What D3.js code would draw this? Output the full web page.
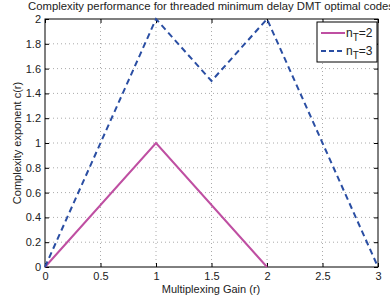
<!DOCTYPE html>
<html lang="en">
<head>
<meta charset="UTF-8">
<title>Complexity performance</title>
<script src="https://d3js.org/d3.v7.min.js"></script>
<style>
  body { margin: 0; background: #fff; }
  text { font-family: "Liberation Sans", Arial, sans-serif; }
</style>
</head>
<body>
<div id="chart"></div>
<script>
    // data
    var r2 = [0, 1, 2];
    var c2 = [0, 1, 0];
    var r3 = [0, 1, 1.5, 2, 3];
    var c3 = [0, 2, 1.5, 2, 0];
    var xTicks = [0, 0.5, 1, 1.5, 2, 2.5, 3];
    var yTicks = [0, 0.2, 0.4, 0.6, 0.8, 1, 1.2, 1.4, 1.6, 1.8, 2];
    var seriesNames = ["2", "3"];

    var w = 390, h = 300;
    var pLeft = 45, pRight = 378, pTop = 19, pBottom = 267;

    var svg = d3.select("#chart").append("svg")
        .attr("width", w).attr("height", h);

    var x = d3.scaleLinear().domain([0, 3]).range([pLeft, pRight]);
    var y = d3.scaleLinear().domain([0, 2]).range([pBottom, pTop]);

    // grid
    svg.append("g").selectAll("line").data(xTicks.slice(1, -1)).enter().append("line")
        .attr("x1", d => x(d)).attr("x2", d => x(d))
        .attr("y1", pTop).attr("y2", pBottom)
        .attr("stroke", "#aaa").attr("stroke-width", 1).attr("stroke-dasharray", "1,3");
    svg.append("g").selectAll("line").data(yTicks.slice(1, -1)).enter().append("line")
        .attr("x1", pLeft).attr("x2", pRight)
        .attr("y1", d => y(d)).attr("y2", d => y(d))
        .attr("stroke", "#aaa").attr("stroke-width", 1).attr("stroke-dasharray", "1,3");

    // axes
    var xAxis = d3.axisBottom(x).tickValues(xTicks).tickSize(-4).tickPadding(5).tickFormat(d3.format("~g"));
    var yAxis = d3.axisLeft(y).tickValues(yTicks).tickSize(-4).tickPadding(4).tickFormat(d3.format("~g"));
    var gx = svg.append("g").attr("transform", "translate(0," + pBottom + ")").call(xAxis);
    var gy = svg.append("g").attr("transform", "translate(" + pLeft + ",0)").call(yAxis);
    var gx2 = svg.append("g").attr("transform", "translate(0," + pTop + ")")
        .call(d3.axisTop(x).tickValues(xTicks).tickSize(-4).tickFormat(""));
    var gy2 = svg.append("g").attr("transform", "translate(" + pRight + ",0)")
        .call(d3.axisRight(y).tickValues(yTicks).tickSize(-4).tickFormat(""));
    [gx, gy, gx2, gy2].forEach(function(g) {
        g.select(".domain").remove();
        g.selectAll("line").attr("stroke", "#000");
        g.selectAll("text").attr("font-size", 11).attr("fill", "#222")
            .style("font-family", "Liberation Sans, Arial, sans-serif");
    });
    svg.append("rect").attr("x", pLeft).attr("y", pTop)
        .attr("width", pRight - pLeft).attr("height", pBottom - pTop)
        .attr("fill", "none").attr("stroke", "#000").attr("stroke-width", 1);

    // lines
    var line = d3.line().x(d => x(d[0])).y(d => y(d[1]));
    svg.append("path").datum(d3.zip(r2, c2)).attr("d", line)
        .attr("fill", "none").attr("stroke", "#bf4fa2").attr("stroke-width", 2);
    svg.append("path").datum(d3.zip(r3, c3)).attr("d", line)
        .attr("fill", "none").attr("stroke", "#2a4ea3").attr("stroke-width", 2)
        .attr("stroke-dasharray", "6,4");

    // legend
    var lg = svg.append("g");
    lg.append("rect").attr("x", 317).attr("y", 22).attr("width", 60).attr("height", 40)
        .attr("fill", "#fff").attr("stroke", "#000").attr("stroke-width", 1);
    var styles = [{c: "#bf4fa2", dash: null}, {c: "#2a4ea3", dash: "5,3"}];
    seriesNames.forEach(function(n, i) {
        var yy = 33 + i * 18;
        lg.append("line").attr("x1", 321).attr("x2", 345).attr("y1", yy).attr("y2", yy)
            .attr("stroke", styles[i].c).attr("stroke-width", 2)
            .attr("stroke-dasharray", styles[i].dash);
        var t = lg.append("text").attr("x", 346).attr("y", yy + 4)
            .attr("font-size", 12).attr("fill", "#222");
        t.append("tspan").text("n");
        t.append("tspan").attr("font-size", 10).attr("dy", 4).text("T");
        t.append("tspan").attr("dy", -4).text("=" + n);
    });

    // titles
    svg.append("text").attr("x", 211).attr("y", 10).attr("text-anchor", "middle")
        .attr("font-size", 11.3).attr("fill", "#222")
        .text("Complexity performance for threaded minimum delay DMT optimal codes");
    svg.append("text").attr("x", 211).attr("y", 293).attr("text-anchor", "middle")
        .attr("font-size", 11).attr("fill", "#222").text("Multiplexing Gain (r)");
    svg.append("text").attr("transform", "translate(21," + ((pTop + pBottom) / 2) + ") rotate(-90)")
        .attr("text-anchor", "middle").attr("font-size", 11).attr("fill", "#222")
        .text("Complexity exponent c(r)");
</script>
</body>
</html>
